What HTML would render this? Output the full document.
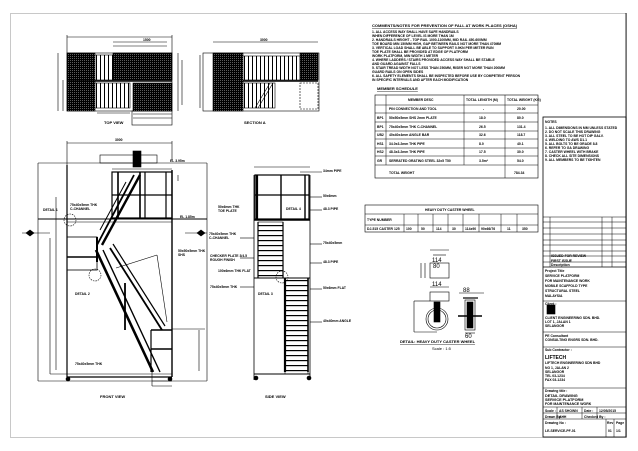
<!DOCTYPE html>
<html><head><meta charset="utf-8"><style>
html,body{margin:0;padding:0;background:#fff;}
svg{display:block;}
text{font-family:"Liberation Sans",sans-serif;font-weight:bold;fill:#000;}
.t{font-size:4px;}
.s{font-size:3.4px;}
</style></head><body>
<svg width="638" height="451" viewBox="0 0 638 451" xmlns="http://www.w3.org/2000/svg">
<defs>
<pattern id="h" width="2" height="2" patternUnits="userSpaceOnUse"><rect width="2" height="2" fill="#000"/><rect width="0.6" height="0.6" fill="#fff"/></pattern>
<pattern id="v" width="4" height="4" patternUnits="userSpaceOnUse"><rect width="4" height="4" fill="#fff"/><rect width="1" height="4" fill="#000"/></pattern>
<pattern id="hz" width="4" height="5" patternUnits="userSpaceOnUse"><rect width="4" height="5" fill="#fff"/><rect width="4" height="1.2" fill="#000"/></pattern>
</defs>
<rect x="10.5" y="13.5" width="616" height="424" fill="none" stroke="#bbb" stroke-width="0.8"/>
<line x1="626" y1="13" x2="626" y2="437" stroke="#000" stroke-width="0.8"/>

<g stroke="#000" fill="none" stroke-width="0.6">
<!-- TOP VIEW -->
<line x1="67" y1="37" x2="172" y2="37"/><line x1="67" y1="35" x2="67" y2="53"/><line x1="172" y1="35" x2="172" y2="53"/>
<line x1="113" y1="42" x2="167" y2="42"/><line x1="113" y1="46" x2="167" y2="46"/>
<line x1="58" y1="53" x2="58" y2="111"/><line x1="63" y1="80" x2="63" y2="111"/>
<line x1="178" y1="53" x2="178" y2="111"/><line x1="182" y1="60" x2="182" y2="105"/>
<rect x="67" y="53" width="105" height="58"/>
<rect x="67" y="53" width="28" height="58" fill="url(#h)"/>
<rect x="95" y="55" width="18" height="25" fill="url(#v)"/>
<rect x="113" y="53" width="59" height="27" fill="url(#h)"/>
<rect x="95" y="83" width="35" height="25" fill="url(#v)"/>
<rect x="133" y="83" width="39" height="28" fill="url(#h)"/>
<line x1="67" y1="81" x2="172" y2="81" stroke-width="1.4"/>
<line x1="97" y1="113" x2="130" y2="113"/><line x1="133" y1="114" x2="172" y2="114"/><line x1="133" y1="118" x2="172" y2="118"/>
<rect x="132" y="111" width="40" height="14"/>
<!-- SECTION A -->
<line x1="213" y1="42" x2="318" y2="42"/>
<rect x="203" y="53" width="116" height="58"/>
<rect x="213" y="53" width="30" height="58" fill="url(#h)"/>
<rect x="243" y="56" width="57" height="24" fill="url(#v)"/>
<rect x="300" y="53" width="18" height="27" fill="url(#h)"/>
<rect x="243" y="83" width="32" height="25" fill="url(#v)"/>
<rect x="300" y="83" width="18" height="26" stroke-dasharray="2 1"/>
<line x1="243" y1="81" x2="318" y2="81" stroke-width="1.4"/>
<line x1="255" y1="108" x2="270" y2="83"/><line x1="258" y1="108" x2="273" y2="83"/>
<line x1="200" y1="55" x2="200" y2="108"/>

<!-- FRONT VIEW -->
<line x1="67" y1="143" x2="172" y2="143"/><line x1="67" y1="141" x2="67" y2="165"/><line x1="172" y1="141" x2="172" y2="160"/>
<rect x="100" y="155" width="57" height="8"/><rect x="133" y="151" width="8" height="16" fill="#000"/>
<line x1="38" y1="163" x2="38" y2="381"/><line x1="38" y1="163" x2="207" y2="163"/>
<line x1="207" y1="163" x2="207" y2="381"/>
<line x1="38" y1="381" x2="207" y2="381"/>
<line x1="50" y1="238" x2="50" y2="374"/>
<line x1="67" y1="165" x2="67" y2="377" stroke-width="1.2"/>
<line x1="172" y1="170" x2="172" y2="377" stroke-width="1.4"/>
<line x1="50" y1="374" x2="172" y2="374"/>
<line x1="67" y1="377" x2="172" y2="377" stroke-width="1.2"/>
<rect x="112" y="172" width="60" height="46" stroke-width="1.2"/>
<line x1="112" y1="195" x2="172" y2="195" stroke-width="1.2"/>
<line x1="118" y1="172" x2="118" y2="218" stroke-width="1.6"/>
<line x1="140" y1="172" x2="140" y2="218" stroke-width="1.6"/>
<line x1="145" y1="172" x2="145" y2="218" stroke-width="1.2"/>
<line x1="166" y1="172" x2="166" y2="218" stroke-width="1.2"/>
<line x1="112" y1="169" x2="172" y2="169"/>
<line x1="38" y1="219" x2="207" y2="219" stroke-width="1"/>
<line x1="67" y1="222" x2="172" y2="222"/>
<line x1="140" y1="175" x2="102" y2="245" stroke-width="2.4"/>
<line x1="134" y1="175" x2="97" y2="245" stroke-width="1.8"/>
<line x1="126" y1="182" x2="100" y2="230" stroke-width="1"/>
<line x1="96" y1="250" x2="153" y2="372" stroke-width="2.6"/>
<line x1="103" y1="250" x2="160" y2="372" stroke-width="1.4"/>
<line x1="110" y1="248" x2="162" y2="330" stroke-width="1.8"/>
<line x1="113" y1="244" x2="165" y2="326" stroke-width="1.2"/>
<line x1="125" y1="283" x2="125" y2="330" stroke-width="1.8"/>
<line x1="116" y1="268" x2="157" y2="255"/>
<line x1="157" y1="255" x2="167" y2="322"/>
<rect x="67" y="237" width="30" height="33" stroke-width="0.8"/>
<line x1="67" y1="257" x2="97" y2="257" stroke-width="1.4"/>
<line x1="97" y1="237" x2="97" y2="262" stroke-width="2"/>
<line x1="151" y1="330" x2="172" y2="330" stroke-width="1.6"/>
<line x1="151" y1="349" x2="172" y2="349" stroke-width="1.6"/>
<line x1="151" y1="330" x2="151" y2="372" stroke-width="1.2"/>
<line x1="172" y1="329" x2="205" y2="329"/>
<line x1="199" y1="330" x2="199" y2="371"/>
<line x1="152" y1="381" x2="172" y2="381"/><line x1="152" y1="372" x2="152" y2="386"/><line x1="152" y1="386" x2="172" y2="386"/>
<circle cx="68" cy="379" r="2" fill="#000"/><circle cx="170" cy="379" r="2" fill="#000"/>
<circle cx="70" cy="220" r="6" stroke-dasharray="1.5 1"/>
<circle cx="95" cy="275" r="6" stroke-dasharray="1.5 1"/>
<line x1="178" y1="175" x2="178" y2="181"/>
<line x1="22" y1="233" x2="50" y2="233"/>
<line x1="185" y1="233" x2="207" y2="233"/>
<polygon points="30,230 34,233 30,236 26,233" fill="#000"/>
<polygon points="201,230 205,233 201,236 197,233" fill="#000"/>
<line x1="56" y1="197" x2="56" y2="370"/>

<!-- SIDE VIEW -->
<line x1="254" y1="167" x2="310" y2="167"/>
<rect x="255" y="175" width="54" height="44" stroke-width="1.2"/>
<line x1="257" y1="175" x2="257" y2="219" stroke-width="2.2"/>
<line x1="281" y1="175" x2="281" y2="219" stroke-width="1.4"/>
<line x1="305" y1="175" x2="305" y2="219" stroke-width="1.4"/>
<line x1="255" y1="195" x2="309" y2="195" stroke-width="1.2"/>
<line x1="254" y1="220" x2="310" y2="220" stroke-width="1.4"/>
<line x1="254" y1="175" x2="254" y2="380" stroke-width="0.8"/>
<line x1="310" y1="175" x2="310" y2="380" stroke-width="0.8"/>
<rect x="258" y="222" width="25" height="56" fill="url(#hz)"/>
<line x1="258" y1="222" x2="258" y2="278" stroke-width="1.2"/><line x1="283" y1="222" x2="283" y2="278" stroke-width="1.2"/>
<rect x="285" y="278" width="23" height="96" fill="url(#hz)"/>
<line x1="285" y1="278" x2="285" y2="372" stroke-width="2.2"/><line x1="308" y1="278" x2="308" y2="372" stroke-width="1.6"/>
<line x1="254" y1="278" x2="310" y2="278" stroke-width="1"/>
<line x1="254" y1="374" x2="310" y2="374" stroke-width="1"/>
<circle cx="256" cy="378" r="2" fill="#000"/><circle cx="309" cy="378" r="2" fill="#000"/>
<circle cx="282" cy="277" r="6" stroke-dasharray="1.5 1"/>
<line x1="300" y1="172" x2="322" y2="172"/>
<line x1="310" y1="197" x2="322" y2="197"/><line x1="310" y1="210" x2="322" y2="210"/>
<line x1="310" y1="244" x2="322" y2="244"/><line x1="310" y1="263" x2="322" y2="263"/>
<line x1="310" y1="289" x2="322" y2="289"/><line x1="310" y1="322" x2="322" y2="322"/>
<line x1="240" y1="238" x2="254" y2="238"/><line x1="240" y1="258" x2="254" y2="258"/>
<line x1="240" y1="287" x2="254" y2="287"/>

<!-- WHEEL DETAIL -->
<rect x="430" y="263" width="19" height="15"/>
<line x1="430" y1="250" x2="449" y2="250"/><line x1="433" y1="255" x2="446" y2="255"/>
<line x1="421" y1="263" x2="421" y2="278"/><line x1="425" y1="263" x2="425" y2="278"/>
<rect x="430" y="292" width="19" height="9"/>
<line x1="430" y1="287" x2="449" y2="287"/>
<circle cx="437" cy="319" r="11"/><circle cx="437" cy="319" r="9"/>
<rect x="434" y="302" width="6" height="20" fill="#000"/>
<line x1="414" y1="301" x2="414" y2="332"/><line x1="414" y1="301" x2="430" y2="301"/><line x1="414" y1="332" x2="437" y2="332"/>
<rect x="465" y="300" width="10" height="30"/>
<rect x="467" y="302" width="6" height="26" fill="#000"/>
<line x1="458" y1="316" x2="482" y2="316" stroke-width="1.5"/>
<line x1="463" y1="298" x2="478" y2="298" stroke-width="1.2"/>
<line x1="459" y1="293" x2="484" y2="293"/>
<line x1="465" y1="333" x2="475" y2="333"/>

<!-- MEMBER TABLE -->
<rect x="375" y="95" width="163" height="83"/>
<g stroke-width="0.5">
<line x1="375" y1="105" x2="538" y2="105"/><line x1="375" y1="113" x2="538" y2="113"/>
<line x1="375" y1="122" x2="538" y2="122"/><line x1="375" y1="131" x2="538" y2="131"/>
<line x1="375" y1="139" x2="538" y2="139"/><line x1="375" y1="148" x2="538" y2="148"/>
<line x1="375" y1="156" x2="538" y2="156"/><line x1="375" y1="165" x2="538" y2="165"/>
<line x1="386" y1="95" x2="386" y2="165"/><line x1="464" y1="95" x2="464" y2="165"/><line x1="505" y1="95" x2="505" y2="178"/>
</g>
<rect x="365" y="205" width="173" height="27"/>
<g stroke-width="0.5">
<line x1="365" y1="214" x2="538" y2="214"/><line x1="365" y1="225" x2="538" y2="225"/>
<line x1="404" y1="214" x2="404" y2="232"/><line x1="418" y1="214" x2="418" y2="232"/><line x1="433" y1="214" x2="433" y2="232"/>
<line x1="448" y1="214" x2="448" y2="232"/><line x1="463" y1="214" x2="463" y2="232"/><line x1="479" y1="214" x2="479" y2="232"/>
<line x1="501" y1="214" x2="501" y2="232"/><line x1="517" y1="214" x2="517" y2="232"/>
</g>

<!-- TITLE BLOCK -->
<rect x="543" y="117" width="83" height="320" stroke-width="0.8"/>
<g stroke-width="0.5">
<line x1="543" y1="217" x2="626" y2="217"/><line x1="543" y1="222" x2="626" y2="222"/><line x1="543" y1="228" x2="626" y2="228"/>
<line x1="543" y1="234" x2="626" y2="234"/><line x1="543" y1="240" x2="626" y2="240"/><line x1="543" y1="245" x2="626" y2="245"/>
<line x1="543" y1="251" x2="626" y2="251"/><line x1="543" y1="256" x2="626" y2="256"/><line x1="543" y1="262" x2="626" y2="262"/>
<line x1="543" y1="267" x2="626" y2="267" stroke-width="0.8"/>
<line x1="550" y1="217" x2="550" y2="267"/><line x1="602" y1="217" x2="602" y2="267"/><line x1="612" y1="217" x2="612" y2="267"/>
<line x1="543" y1="301" x2="626" y2="301"/><line x1="543" y1="332" x2="626" y2="332"/>
<line x1="543" y1="347" x2="626" y2="347"/><line x1="543" y1="388" x2="626" y2="388"/>
<line x1="543" y1="407" x2="626" y2="407"/><line x1="543" y1="413" x2="626" y2="413"/><line x1="543" y1="419" x2="626" y2="419"/>
<line x1="557" y1="407" x2="557" y2="419"/><line x1="582" y1="407" x2="582" y2="419"/><line x1="597" y1="407" x2="597" y2="419"/>
<line x1="606" y1="419" x2="606" y2="437"/><line x1="614" y1="419" x2="614" y2="437"/>
</g>
<rect x="547" y="305" width="8" height="9" fill="#000"/>
</g>

<!-- TEXT -->
<g>
<text x="372" y="27" style="font-size:4px;text-decoration:underline">COMMENTS/NOTES FOR PREVENTION OF FALL AT WORK PLACES (OSHA)</text>
<text class="s" x="372" y="33">1. ALL ACCESS WAY SHALL HAVE SAFE HANDRAILS</text>
<text class="s" x="372" y="37">   WHEN DIFFERENCE OF LEVEL IS MORE THAN 1M</text>
<text class="s" x="372" y="41">2. HANDRAILS HEIGHT - TOP RAIL 1000-1100MM, MID RAIL 450-600MM</text>
<text class="s" x="372" y="45">   TOE BOARD MIN 150MM HIGH, GAP BETWEEN RAILS NOT MORE THAN 470MM</text>
<text class="s" x="372" y="49">3. VERTICAL LOAD SHALL BE ABLE TO SUPPORT 0.9KN PER METER RUN</text>
<text class="s" x="372" y="53">   TOE PLATE SHALL BE PROVIDED AT EDGE OF PLATFORM</text>
<text class="s" x="372" y="57">   WORK PLATFORM, MIN WIDTH 1 METER</text>
<text class="s" x="372" y="61">4. WHERE LADDERS / STAIRS PROVIDED ACCESS WAY SHALL BE STABLE</text>
<text class="s" x="372" y="65">   AND GUARD AGAINST FALLS</text>
<text class="s" x="372" y="69">5. STAIR TREAD WIDTH NOT LESS THAN 250MM, RISER NOT MORE THAN 200MM</text>
<text class="s" x="372" y="73">   GUARD RAILS ON OPEN SIDES</text>
<text class="s" x="372" y="77">6. ALL SAFETY ELEMENTS SHALL BE INSPECTED BEFORE USE BY COMPETENT PERSON</text>
<text class="s" x="372" y="81">   IN SPECIFIC INTERVALS AND AFTER EACH MODIFICATION</text>
<text x="377" y="90" style="font-size:4px;text-decoration:underline">MEMBER SCHEDULE</text>
<text class="s" x="408" y="101">MEMBER DESC</text><text class="s" x="466" y="101">TOTAL LENGTH (M)</text><text class="s" x="507" y="101">TOTAL WEIGHT (KG)</text>
<text class="s" x="389" y="110">PIN CONNECTION AND TOOL</text><text class="s" x="483" y="110">-</text><text class="s" x="517" y="110">20.00</text>
<text class="s" x="377" y="119">BP1</text><text class="s" x="389" y="119">50x50x5mm SHS 2mm PLATE</text><text class="s" x="479" y="119">18.0</text><text class="s" x="517" y="119">80.0</text>
<text class="s" x="377" y="128">BP1</text><text class="s" x="389" y="128">75x40x5mm THK C-CHANNEL</text><text class="s" x="479" y="128">26.5</text><text class="s" x="517" y="128">131.4</text>
<text class="s" x="377" y="136">UB2</text><text class="s" x="389" y="136">40x40x4mm ANGLE BAR</text><text class="s" x="479" y="136">32.6</text><text class="s" x="517" y="136">118.7</text>
<text class="s" x="377" y="145">HS1</text><text class="s" x="389" y="145">34.0x3.2mm THK PIPE</text><text class="s" x="479" y="145">8.0</text><text class="s" x="517" y="145">40.1</text>
<text class="s" x="377" y="153">HS2</text><text class="s" x="389" y="153">48.3x3.2mm THK PIPE</text><text class="s" x="479" y="153">17.5</text><text class="s" x="517" y="153">30.0</text>
<text class="s" x="377" y="162">GR</text><text class="s" x="389" y="162">SERRATED GRATING STEEL 32x5 T50</text><text class="s" x="479" y="162">3.5m²</text><text class="s" x="517" y="162">54.0</text>
<text class="s" x="389" y="174">TOTAL WEIGHT</text><text class="s" x="514" y="174">784.34</text>
<text class="s" x="425" y="211">HEAVY DUTY CASTER WHEEL</text>
<text class="s" x="367" y="221">TYPE NUMBER</text>
<text class="s" x="367" y="230">DJ-515 CASTER 125</text><text class="s" x="406" y="230">100</text><text class="s" x="421" y="230">50</text><text class="s" x="436" y="230">114</text><text class="s" x="452" y="230">30</text><text class="s" x="465" y="230">114x90</text><text class="s" x="481" y="230">90x66/76</text><text class="s" x="507" y="230">11</text><text class="s" x="522" y="230">350</text>
<text x="432" y="262" style="font-size:6px;font-weight:normal">114</text>
<text x="433" y="268" style="font-size:6px;font-weight:normal">80</text>
<text x="432" y="286" style="font-size:6px;font-weight:normal">114</text>
<text x="463" y="292" style="font-size:6px;font-weight:normal">88</text>
<text x="465" y="338" style="font-size:6px;font-weight:normal">60</text>
<text x="400" y="343" style="font-size:4px;text-decoration:underline">DETAIL: HEAVY DUTY CASTER WHEEL</text>
<text class="t" x="432" y="350" style="font-weight:normal">Scale : 1:5</text>
<text class="t" x="104" y="124">TOP VIEW</text>
<text class="t" x="244" y="124">SECTION A</text>
<text class="t" x="100" y="398">FRONT VIEW</text>
<text class="t" x="265" y="398">SIDE VIEW</text>
<text class="s" x="115" y="141">3000</text><text class="s" x="143" y="41">1500</text><text class="s" x="260" y="41">3000</text>
<text class="s" x="170" y="162">EL 3.95m</text><text class="s" x="180" y="218">EL 1.85m</text>
<text class="s" x="43" y="211">DETAIL 1</text><text class="s" x="70" y="206">75x40x5mm THK</text><text class="s" x="70" y="210">C-CHANNEL</text>
<text class="s" x="75" y="295">DETAIL 2</text><text class="s" x="75" y="365">75x40x5mm THK</text>
<text class="s" x="178" y="252">50x50x5mm THK</text><text class="s" x="178" y="256">SHS</text>
<text class="s" x="209" y="235">75x40x5mm THK</text><text class="s" x="209" y="239">C-CHANNEL</text>
<text class="s" x="210" y="257">CHECKER PLATE 3/4.5</text><text class="s" x="210" y="261">ROUGH FINISH</text>
<text class="s" x="218" y="272">100x6mm THK FLAT</text><text class="s" x="210" y="288">75x40x5mm THK</text>
<text class="s" x="258" y="295">DETAIL 3</text><text class="s" x="286" y="210">DETAIL 4</text>
<text class="s" x="218" y="208">50x6mm THK</text><text class="s" x="218" y="212">TOE PLATE</text>
<text class="s" x="323" y="172">34mm PIPE</text><text class="s" x="323" y="197">50x6mm</text><text class="s" x="323" y="210">48.3 PIPE</text>
<text class="s" x="323" y="244">75x40x5mm</text><text class="s" x="323" y="263">48.3 PIPE</text><text class="s" x="323" y="289">50x6mm FLAT</text>
<text class="s" x="323" y="322">40x40mm ANGLE</text>
<text class="s" x="545" y="123">NOTES</text>
<text class="s" x="545" y="129">1. ALL DIMENSIONS IN MM UNLESS STATED</text>
<text class="s" x="545" y="133">2. DO NOT SCALE THIS DRAWING</text>
<text class="s" x="545" y="137">3. ALL STEEL TO BE HOT DIP GALV.</text>
<text class="s" x="545" y="141">4. WELDING TO AWS D1.1</text>
<text class="s" x="545" y="145">5. ALL BOLTS TO BE GRADE 8.8</text>
<text class="s" x="545" y="149">6. REFER TO GA DRAWING</text>
<text class="s" x="545" y="153">7. CASTER WHEEL WITH BRAKE</text>
<text class="s" x="545" y="157">8. CHECK ALL SITE DIMENSIONS</text>
<text class="s" x="545" y="161">9. ALL MEMBERS TO BE TIGHTEN</text>
<text class="s" x="551" y="257">ISSUED FOR REVIEW</text><text class="s" x="551" y="262">FIRST ISSUE</text><text class="s" x="551" y="266">Description</text>
<text class="s" x="545" y="272">Project Title</text>
<text class="s" x="545" y="277">SERVICE PLATFORM</text><text class="s" x="545" y="282">FOR MAINTENANCE WORK</text>
<text class="s" x="545" y="287">MOBILE SCAFFOLD TYPE</text><text class="s" x="545" y="292">STRUCTURAL STEEL</text><text class="s" x="545" y="297">MALAYSIA</text>
<text class="s" x="545" y="305">Client :</text>
<text class="s" x="545" y="319">CLIENT ENGINEERING SDN. BHD.</text><text class="s" x="545" y="323">LOT 1, JALAN 1</text><text class="s" x="545" y="327">SELANGOR</text>
<text class="s" x="545" y="337">PE Consultant</text><text class="s" x="545" y="341">CONSULTING ENGRS SDN. BHD.</text>
<text class="s" x="545" y="351">Sub Contractor :</text>
<text x="545" y="359" style="font-size:5px">LIFTECH</text>
<text class="s" x="545" y="364">LIFTECH ENGINEERING SDN BHD</text><text class="s" x="545" y="369">NO 1, JALAN 2</text><text class="s" x="545" y="373">SELANGOR</text><text class="s" x="545" y="377">TEL 03-1234</text><text class="s" x="545" y="381">FAX 03-1234</text>
<text class="s" x="545" y="392">Drawing title :</text>
<text x="545" y="397" style="font-size:3.8px">DETAIL DRAWING</text>
<text x="545" y="401" style="font-size:3.8px">SERVICE PLATFORM</text>
<text x="545" y="405" style="font-size:3.5px">FOR MAINTENANCE WORK</text>
<text class="s" x="545" y="412">Scale :</text><text class="s" x="559" y="412">AS SHOWN</text><text class="s" x="584" y="412">Date :</text><text class="s" x="599" y="412">12/05/2015</text>
<text class="s" x="545" y="418">Drawn By :</text><text class="s" x="559" y="418">AHH</text><text class="s" x="584" y="418">Checked By :</text>
<text class="s" x="545" y="424">Drawing No :</text><text class="s" x="545" y="432">LE-SERVICE-PF-01</text>
<text class="s" x="607" y="424">Rev</text><text class="s" x="608" y="432">01</text><text class="s" x="616" y="424">Page</text><text class="s" x="616" y="432">1/1</text>
</g>
</svg>
</body></html>
